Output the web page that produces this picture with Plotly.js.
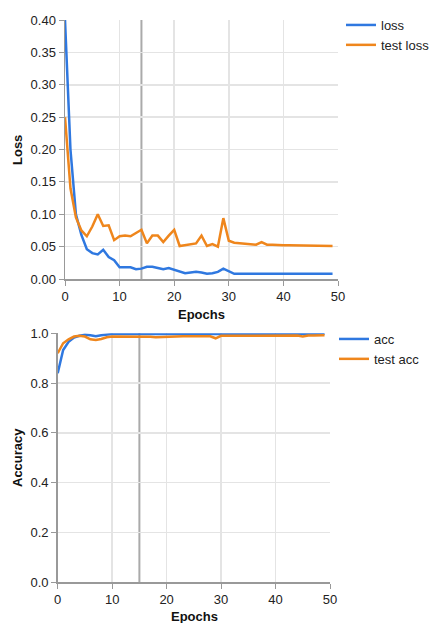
<!DOCTYPE html>
<html>
<head>
<meta charset="utf-8">
<script src="https://cdn.plot.ly/plotly-3.0.1.min.js"></script>
<style>html,body{margin:0;padding:0;background:#fff;}#chart{width:435px;height:623px;}</style>
</head>
<body>
<div id="chart"></div>
<script>
const epochs = [0,1,2,3,4,5,6,7,8,9,10,11,12,13,14,15,16,17,18,19,20,21,22,23,24,25,26,27,28,29,30,31,32,33,34,35,36,37,38,39,40,41,42,43,44,45,46,47,48,49];
const loss = [0.400,0.200,0.100,0.068,0.046,0.040,0.038,0.045,0.034,0.029,
              0.018,0.018,0.018,0.015,0.016,0.019,0.019,0.017,0.015,0.017,
              0.014,0.011,0.009,0.010,0.011,0.010,0.008,0.009,0.011,0.016,
              0.012,0.008,0.008,0.008,0.008,0.008,0.008,0.008,0.008,0.008,
              0.008,0.008,0.008,0.008,0.008,0.008,0.008,0.008,0.008,0.008];
const testLoss = [0.250,0.140,0.095,0.075,0.066,0.081,0.100,0.082,0.083,0.060,
                  0.066,0.067,0.066,0.071,0.076,0.055,0.067,0.067,0.057,0.067,
                  0.076,0.051,0.052,0.053,0.055,0.067,0.051,0.054,0.050,0.094,
                  0.059,0.056,0.055,0.054,0.053,0.053,0.057,0.053,0.053,0.052,
                  0.052,0.052,0.052,0.052,0.052,0.052,0.051,0.051,0.051,0.051];
const acc = [0.840,0.933,0.966,0.983,0.990,0.994,0.992,0.988,0.992,0.995,
             0.997,0.997,0.997,0.997,0.997,0.997,0.997,0.997,0.997,0.997,
             0.997,0.997,0.997,0.997,0.997,0.997,0.997,0.997,0.997,0.997,
             0.998,0.998,0.998,0.998,0.998,0.998,0.998,0.998,0.998,0.998,
             0.998,0.998,0.998,0.998,0.998,0.998,0.998,0.998,0.998,0.998];
const testAcc = [0.920,0.960,0.976,0.987,0.990,0.987,0.976,0.973,0.977,0.984,
                 0.987,0.987,0.988,0.988,0.987,0.987,0.986,0.986,0.984,0.985,
                 0.988,0.988,0.987,0.988,0.988,0.988,0.989,0.988,0.988,0.980,
                 0.990,0.990,0.990,0.990,0.990,0.990,0.990,0.991,0.991,0.990,
                 0.990,0.991,0.991,0.991,0.991,0.987,0.991,0.991,0.992,0.992];
const lossTicks = [0,0.05,0.10,0.15,0.20,0.25,0.30,0.35,0.40];
const accTicks = [0,0.2,0.4,0.6,0.8,1.0];
const epochTicks = [0,10,20,30,40,50];
const markerLoss = 14;
const markerAcc = 15;

const BLUE = '#2f78e0', ORANGE = '#ef861c';
const FONT = 'Arial, "Liberation Sans", sans-serif';

const traces = [
  {x: epochs, y: loss, name: 'loss', type: 'scatter', mode: 'lines', line: {color: BLUE, width: 2.5}, xaxis: 'x', yaxis: 'y', legend: 'legend'},
  {x: epochs, y: testLoss, name: 'test loss', type: 'scatter', mode: 'lines', line: {color: ORANGE, width: 2.5}, xaxis: 'x', yaxis: 'y', legend: 'legend'},
  {x: epochs, y: acc, name: 'acc', type: 'scatter', mode: 'lines', line: {color: BLUE, width: 2.5}, xaxis: 'x2', yaxis: 'y2', legend: 'legend2'},
  {x: epochs, y: testAcc, name: 'test acc', type: 'scatter', mode: 'lines', line: {color: ORANGE, width: 2.5}, xaxis: 'x2', yaxis: 'y2', legend: 'legend2'}
];

const W = 435, H = 623;
function axX(domain, anchor) {
  return {domain: domain, anchor: anchor, range: [0, 50], tickvals: epochTicks, ticks: 'outside', ticklen: 5, tickcolor: '#999',
    showline: true, linecolor: '#999', linewidth: 1.5, showgrid: true, gridcolor: '#e4e4e4', gridwidth: 1.5, zeroline: false,
    tickfont: {family: FONT, size: 13, color: '#222'}, fixedrange: true, automargin: false};
}
function axY(domain, anchor, range, ticks, fmt) {
  return {domain: domain, anchor: anchor, range: range, tickvals: ticks, tickformat: fmt, ticks: 'outside', ticklen: 5, tickcolor: '#999',
    showline: true, linecolor: '#999', linewidth: 1.5, showgrid: true, gridcolor: '#e4e4e4', gridwidth: 1.5, zeroline: false,
    tickfont: {family: FONT, size: 13, color: '#222'}, fixedrange: true, automargin: false};
}

const layout = {
  width: W, height: H,
  margin: {l: 0, r: 0, t: 0, b: 0, autoexpand: false},
  paper_bgcolor: '#fff', plot_bgcolor: '#fff',
  showlegend: true,
  xaxis: axX([65/W, 338/W], 'y'),
  yaxis: axY([1 - 279/H, 1 - 20/H], 'x', [0, 0.40], lossTicks, '.2f'),
  xaxis2: axX([57.7/W, 330/W], 'y2'),
  yaxis2: axY([1 - 582.3/H, 1 - 333.3/H], 'x2', [0, 1.0], accTicks, '.1f'),
  legend: {x: 1.0, y: 1 - 10/H, xanchor: 'right', yanchor: 'top', font: {family: FONT, size: 13, color: '#222'}, bgcolor: 'rgba(0,0,0,0)', itemwidth: 30},
  legend2: {x: 425/W, y: 1 - 324/H, xanchor: 'right', yanchor: 'top', font: {family: FONT, size: 13, color: '#222'}, bgcolor: 'rgba(0,0,0,0)', itemwidth: 30},
  shapes: [
    {type: 'line', xref: 'x', yref: 'y domain', x0: markerLoss, x1: markerLoss, y0: 0, y1: 1, line: {color: '#aaa', width: 2}, layer: 'below'},
    {type: 'line', xref: 'x2', yref: 'y2 domain', x0: markerAcc, x1: markerAcc, y0: 0, y1: 1, line: {color: '#aaa', width: 2}, layer: 'below'}
  ],
  annotations: [
    {text: '<b>Loss</b>', xref: 'paper', yref: 'paper', x: 17/W, y: 1 - 150/H, xanchor: 'center', yanchor: 'middle', textangle: -90, showarrow: false, font: {family: FONT, size: 13, color: '#111'}},
    {text: '<b>Epochs</b>', xref: 'paper', yref: 'paper', x: 201/W, y: 1 - 314/H, xanchor: 'center', yanchor: 'middle', showarrow: false, font: {family: FONT, size: 13, color: '#111'}},
    {text: '<b>Accuracy</b>', xref: 'paper', yref: 'paper', x: 17/W, y: 1 - 458/H, xanchor: 'center', yanchor: 'middle', textangle: -90, showarrow: false, font: {family: FONT, size: 13, color: '#111'}},
    {text: '<b>Epochs</b>', xref: 'paper', yref: 'paper', x: 194/W, y: 1 - 616/H, xanchor: 'center', yanchor: 'middle', showarrow: false, font: {family: FONT, size: 13, color: '#111'}}
  ]
};

Plotly.newPlot('chart', traces, layout, {displayModeBar: false, staticPlot: true});
</script>
</body>
</html>
